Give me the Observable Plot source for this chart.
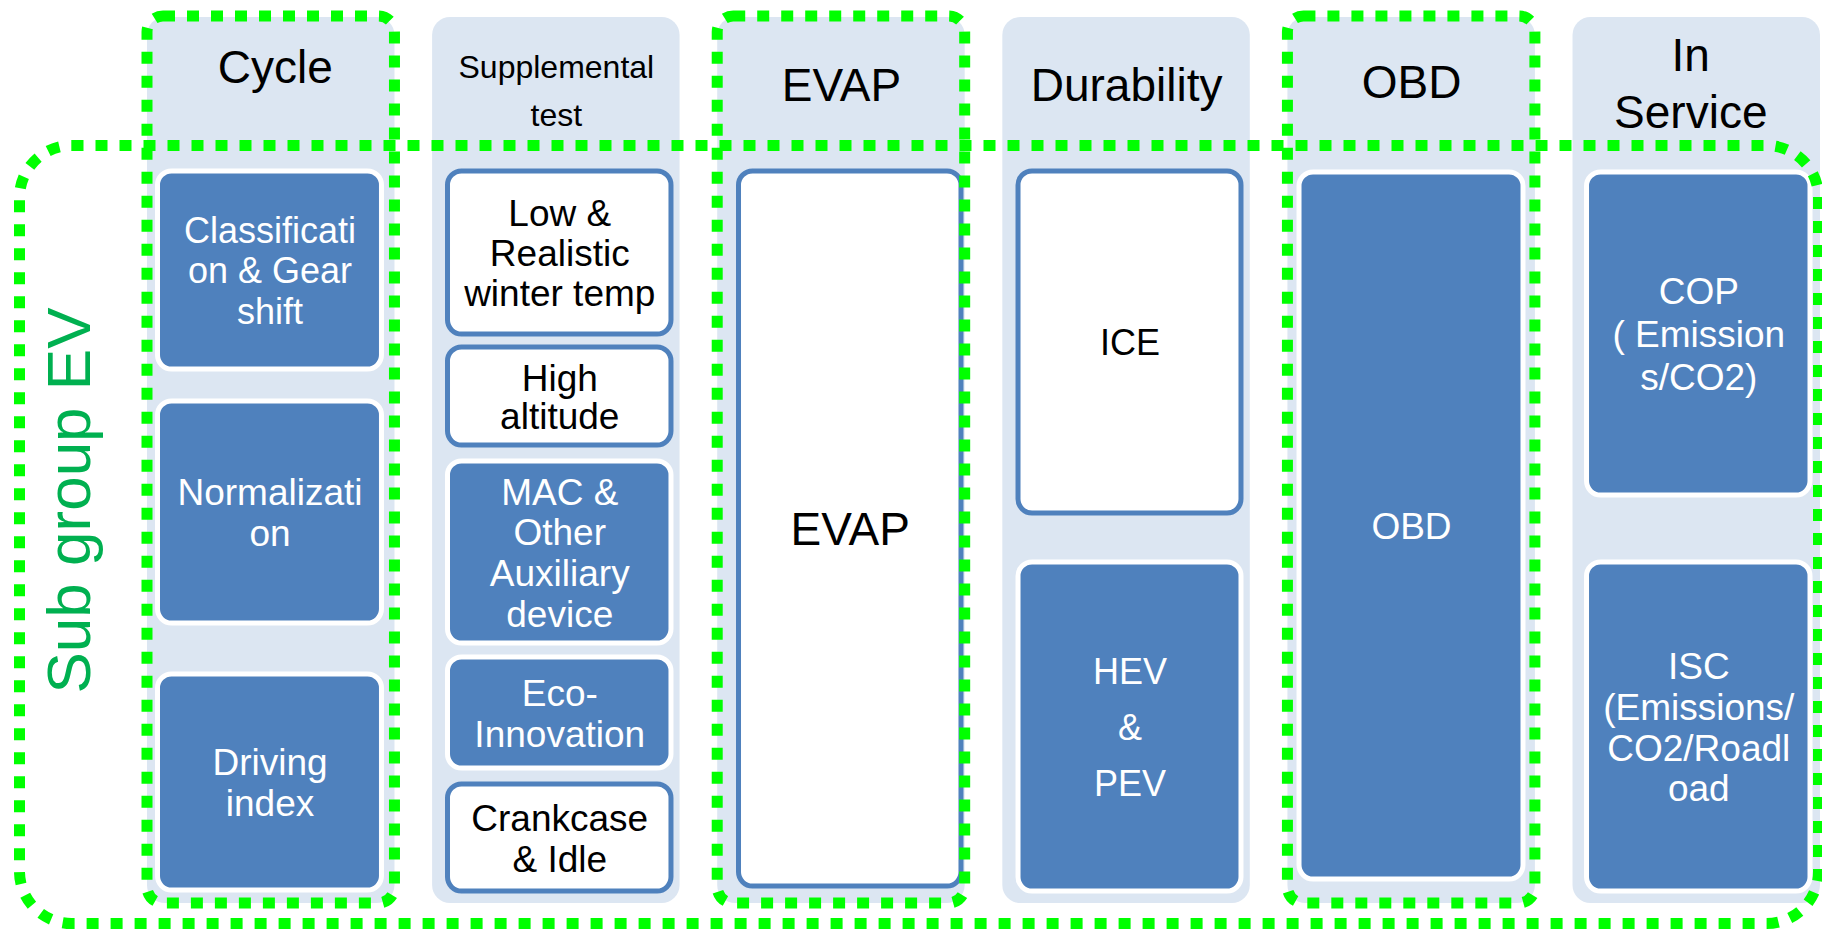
<!DOCTYPE html>
<html>
<head>
<meta charset="utf-8">
<script src="https://cdn.jsdelivr.net/npm/d3@7"></script>
<script src="https://cdn.jsdelivr.net/npm/@observablehq/plot@0.6"></script>
<style>
html, body { margin: 0; padding: 0; background: #ffffff; overflow: hidden; }
#chart svg { display: block; }
</style>
</head>
<body>
<div id="chart"></div>
<script>
// ---------------- DATA ----------------
const columns = ["Cycle", "Supplemental test", "EVAP", "Durability", "OBD", "In Service"];
const headerLabels = ["Cycle", "Supplemental\ntest", "EVAP", "Durability", "OBD", "In\nService"];
const highlightedColumns = ["Cycle", "EVAP", "OBD"];
const groupLabel = "Sub group EV";

const itemColumn = [
  "Cycle", "Cycle", "Cycle",
  "Supplemental test", "Supplemental test", "Supplemental test", "Supplemental test", "Supplemental test",
  "EVAP",
  "Durability", "Durability",
  "OBD",
  "In Service", "In Service"
];
const itemLabel = [
  "Classificati\non & Gear\nshift", "Normalizati\non", "Driving\nindex",
  "Low &\nRealistic\nwinter temp", "High\naltitude", "MAC &\nOther\nAuxiliary\ndevice", "Eco-\nInnovation", "Crankcase\n& Idle",
  "EVAP",
  "ICE", "HEV\n&\nPEV",
  "OBD",
  "COP\n( Emission\ns/CO2)", "ISC\n(Emissions/\nCO2/Roadl\noad"
];
// vertical extent of each box (rows of the diagram, top-down)
const itemStart = [171, 401, 674, 171, 347, 461, 657, 784, 171, 171, 562, 172, 172, 562];
const itemEnd   = [369, 623, 890, 334, 445, 643, 768, 891, 886, 513, 891, 879, 495, 891];
const itemFilled = [true, true, true, false, false, true, true, false, false, false, true, true, true, true];

// ---------------- LAYOUT / STYLE (code, not data) ----------------
const W = 1822, H = 930;
const blue = "#4f81bd", panelFill = "#dce6f2", lime = "#00ff00", groupGreen = "#00b050";
const font = "'Liberation Sans', Arial, Helvetica, sans-serif";
const panelTop = 17, panelBottom = 903;
const boxInsets = {
  "Cycle": [10.5, 13],
  "Supplemental test": [15.4, 8.6],
  "EVAP": [21.3, 3.7],
  "Durability": [15.7, 8.8],
  "OBD": [11.6, 11.9],
  "In Service": [14, 10]
};
// header: baseline mean, font size, line spacing (px), dx
const headerStyle = {
  "Cycle": [82, 46, 46, 4],
  "Supplemental test": [101.5, 32, 49, 0],
  "EVAP": [100, 46, 46, 0],
  "Durability": [100, 46, 46, 0],
  "OBD": [97, 46, 46, 0],
  "In Service": [99, 46, 58, -6]
};
// body text: [fontSize, lineHeight(em)]
const textStyle = {
  "EVAP": [46, 1],
  "ICE": [36, 1],
  "HEV\n&\nPEV": [36, 1.55],
  "COP\n( Emission\ns/CO2)": [37, 1.16],
  "High\naltitude": [37, 1.04],
  "Low &\nRealistic\nwinter temp": [37, 1.08],
  "Classificati\non & Gear\nshift": [36, 1.12]
};

const items = itemLabel.map((label, i) => ({
  column: itemColumn[i], label, start: itemStart[i], end: itemEnd[i], filled: itemFilled[i]
}));

const marks = [];

// column panels
marks.push(Plot.barY(columns, {
  x: d => d, y1: () => panelTop, y2: () => panelBottom,
  fill: panelFill, rx: 18
}));

// boxes
for (const c of columns) {
  const [iL, iR] = boxInsets[c];
  const inCol = items.filter(d => d.column === c);
  marks.push(Plot.barY(inCol.filter(d => d.filled), {
    x: "column", y1: "start", y2: "end",
    fill: blue, stroke: "white", strokeWidth: 5, rx: 14,
    insetLeft: iL, insetRight: iR
  }));
  marks.push(Plot.barY(inCol.filter(d => !d.filled), {
    x: "column", y1: "start", y2: "end",
    fill: "white", stroke: blue, strokeWidth: 5, rx: 14,
    insetLeft: iL, insetRight: iR
  }));
}

// box labels
for (const d of items) {
  const [fs, lh] = textStyle[d.label] || [37, 1.1];
  const [iL, iR] = boxInsets[d.column];
  marks.push(Plot.text([d], {
    x: "column", y: e => (e.start + e.end) / 2, text: "label",
    fontSize: fs, lineHeight: lh, lineAnchor: "middle", textAnchor: "middle",
    dx: (iL - iR) / 2, dy: fs * (0.358 - 0.32 * lh),
    fill: d.filled ? "white" : "black", fontFamily: font
  }));
}

// headers
columns.forEach((c, i) => {
  const [base, fs, spacing, hdx] = headerStyle[c];
  const lh = spacing / fs;
  marks.push(Plot.text([c], {
    x: d => d, y: () => base - 0.32 * spacing, text: () => headerLabels[i],
    fontSize: fs, lineHeight: lh, lineAnchor: "middle", textAnchor: "middle",
    dx: hdx, fill: "black", fontFamily: font
  }));
});

// highlighted column dotted outlines
marks.push(Plot.barY(highlightedColumns, {
  x: d => d, y1: () => 16, y2: () => 903,
  fill: "none", stroke: lime, strokeWidth: 11, strokeDasharray: "12,12", rx: 16
}));

// outer group dotted outline
marks.push(Plot.frame({stroke: lime, strokeWidth: 11, strokeDasharray: "12,12", rx: 52}));

// group label
marks.push(Plot.text([groupLabel], {
  frameAnchor: "left", y: () => 500, dx: 51, text: d => d,
  rotate: -90, textAnchor: "middle", lineAnchor: "middle",
  fontSize: 62, fill: groupGreen, fontFamily: font
}));

const chart = Plot.plot({
  width: W, height: H,
  marginLeft: 19, marginTop: 145, marginRight: 4, marginBottom: 7,
  x: {type: "band", domain: columns, range: [147, 1820], paddingInner: 0.132, paddingOuter: 0, round: false, axis: null},
  y: {type: "linear", domain: [0, H], range: [0, H], axis: null},
  style: {background: "white", fontFamily: font, overflow: "visible"},
  marks
});
document.getElementById("chart").appendChild(chart);
</script>
</body>
</html>
